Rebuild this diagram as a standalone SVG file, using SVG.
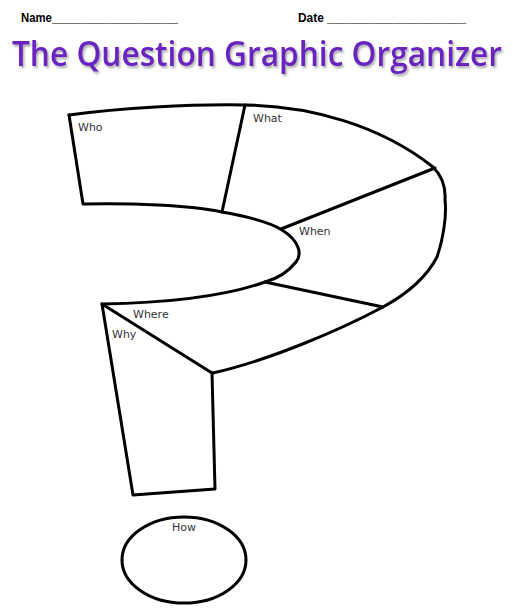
<svg xmlns="http://www.w3.org/2000/svg" width="513" height="610" viewBox="0 0 513 610">
<defs>
<style>
.ol{fill:none;stroke:#000;stroke-width:3;stroke-linejoin:round;stroke-linecap:round}
.lb{font-family:"DejaVu Sans",Verdana,sans-serif;font-size:11px;fill:#333}
.hd{font-family:"Liberation Sans",Arial,sans-serif;font-size:12px;font-weight:bold;fill:#000}
.tt{font-family:"Open Sans","Noto Sans",sans-serif;font-size:32px;font-weight:600;fill:#6a22c0}
</style>
<filter id="sh" filterUnits="userSpaceOnUse" x="0" y="25" width="513" height="60">
<feDropShadow dx="1.5" dy="2" stdDeviation="1.2" flood-color="#888" flood-opacity="0.7"/>
</filter>
</defs>
<rect width="513" height="610" fill="#fff"/>
<g id="header">
<text class="hd" x="21" y="22" textLength="157" lengthAdjust="spacingAndGlyphs">Name____________________</text>
<text class="hd" x="298" y="22" textLength="168" lengthAdjust="spacingAndGlyphs">Date _____________________</text>
</g>
<g id="title">
<text class="tt" x="12" y="66" textLength="490" lengthAdjust="spacingAndGlyphs" filter="url(#sh)" transform="translate(0,66) scale(1,1.07) translate(0,-66)">The Question Graphic Organizer</text>
</g>
<g id="connectors">
<path class="ol" d="M69,115 C120,108 190,104 245,105 C310,106 380,125 433,167 C442,176 446,186 445,200 C447,215 443,240 437,257 C425,280 405,295 383,307 C340,330 270,360 213,373"/>
<path class="ol" d="M69,115 L83,204 C130,203 190,205 222,212 C250,217 270,222 282,230 C298,240 303,253 296,262 C288,272 276,279 265,282 C220,298 160,303 102,304"/>
<line class="ol" x1="245" y1="105" x2="222" y2="212"/>
<line class="ol" x1="281" y1="229" x2="435" y2="168"/>
<line class="ol" x1="265" y1="282" x2="383" y2="307"/>
<line class="ol" x1="102" y1="304" x2="212" y2="373"/>
<path class="ol" d="M102,304 L133,495 L215,489 L212,373"/>
</g>
<g id="who"><text class="lb" x="78" y="131">Who</text></g>
<g id="what"><text class="lb" x="253" y="122">What</text></g>
<g id="when"><text class="lb" x="299" y="235">When</text></g>
<g id="where"><text class="lb" x="133" y="318">Where</text></g>
<g id="why"><text class="lb" x="112" y="338">Why</text></g>
<g id="how">
<ellipse class="ol" cx="184" cy="560" rx="62" ry="43"/>
<text class="lb" x="172" y="531">How</text>
</g>
</svg>
